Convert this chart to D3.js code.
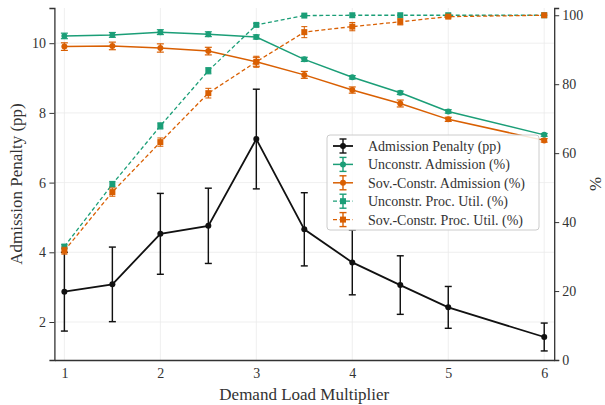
<!DOCTYPE html>
<html><head><meta charset="utf-8">
<script src="https://cdn.jsdelivr.net/npm/d3@7"></script>
<style>body{margin:0;background:#fff}svg{display:block}svg text{font-family:"Liberation Serif","Times New Roman",serif !important}</style>
</head><body><svg id="c" width="605" height="405"></svg>
<script>
const xs = [1, 1.5, 2, 2.5, 3, 3.5, 4, 4.5, 5, 6];
const penalty = [2.87, 3.08, 4.53, 4.76, 7.25, 4.66, 3.71, 3.06, 2.42, 1.57];
const penaltyErr = [1.13, 1.07, 1.16, 1.08, 1.43, 1.05, 0.93, 0.84, 0.6, 0.4];
const unAdm = [94.0, 94.3, 95.1, 94.5, 93.7, 87.2, 82.0, 77.5, 72.1, 65.3];
const unAdmErr = [0.8, 0.7, 0.7, 0.7, 0.6, 0.6, 0.5, 0.5, 0.5, 0.4];
const svAdm = [90.9, 91.1, 90.5, 89.6, 86.5, 82.7, 78.3, 74.4, 69.8, 63.7];
const svAdmErr = [1.1, 1.1, 1.2, 1.1, 1.3, 1.0, 0.9, 1.0, 0.6, 0.5];
const unUtil = [32.9, 51.0, 67.9, 83.9, 97.2, 99.9, 100, 100, 100, 100];
const unUtilErr = [0.6, 0.8, 0.9, 0.9, 0.4, 0.1, 0, 0, 0, 0];
const svUtil = [31.7, 48.7, 63.2, 77.4, 86.5, 95.1, 96.7, 98.1, 99.6, 100];
const svUtilErr = [1.0, 1.2, 1.2, 1.4, 1.6, 1.6, 1.2, 0.9, 0.4, 0.1];
const xTicks = [1, 2, 3, 4, 5, 6];
const yLeftTicks = [2, 4, 6, 8, 10];
const yRightTicks = [0, 20, 40, 60, 80, 100];
const labels = ["Admission Penalty (pp)", "Unconstr. Admission (%)", "Sov.-Constr. Admission (%)", "Unconstr. Proc. Util. (%)", "Sov.-Constr. Proc. Util. (%)"];

const GREEN = "#1b9e77", ORANGE = "#d95f02", BLACK = "#111";
const FONT = "Liberation Serif";
const svg = d3.select("#c");
const L = 54.4, R = 554.2, T = 8, B = 360;
const x = d3.scaleLinear().domain([0.896, 6.104]).range([L, R]);
const yl = d3.scaleLinear().domain([0.91, 11.01]).range([B, T]);
const yr = d3.scaleLinear().domain([0, 102.1]).range([B, T]);

// grid
const g = svg.append("g");
g.selectAll(".gx").data(xTicks).join("line").attr("x1", d => x(d)).attr("x2", d => x(d)).attr("y1", T).attr("y2", B).attr("stroke", "#ebebeb").attr("stroke-width", 0.8);
g.selectAll(".gy").data(yLeftTicks).join("line").attr("y1", d => yl(d)).attr("y2", d => yl(d)).attr("x1", L).attr("x2", R).attr("stroke", "#ebebeb").attr("stroke-width", 0.8);

function series(vals, errs, ys, color, width, dash, marker) {
  const gg = svg.append("g");
  const data = xs.map((xv, i) => ({x: xv, y: vals[i], e: errs[i]}));
  gg.append("path").datum(data).attr("fill", "none").attr("stroke", color).attr("stroke-width", width)
    .attr("stroke-dasharray", dash).attr("d", d3.line().x(d => x(d.x)).y(d => ys(d.y)));
  const cw = marker === "sq" ? 3 : 3.5;
  data.forEach(d => {
    if (d.e > 0) {
      gg.append("line").attr("x1", x(d.x)).attr("x2", x(d.x)).attr("y1", ys(d.y - d.e)).attr("y2", ys(d.y + d.e)).attr("stroke", color).attr("stroke-width", width * 0.8);
      [d.y - d.e, d.y + d.e].forEach(v => gg.append("line").attr("x1", x(d.x) - cw).attr("x2", x(d.x) + cw).attr("y1", ys(v)).attr("y2", ys(v)).attr("stroke", color).attr("stroke-width", width * 0.8));
    }
    if (marker === "sq") gg.append("rect").attr("x", x(d.x) - 3).attr("y", ys(d.y) - 3).attr("width", 6).attr("height", 6).attr("fill", color);
    else gg.append("circle").attr("cx", x(d.x)).attr("cy", ys(d.y)).attr("r", 3).attr("fill", color);
  });
}
series(penalty, penaltyErr, yl, BLACK, 1.8, null, "c");
series(unAdm, unAdmErr, yr, GREEN, 1.5, null, "c");
series(svAdm, svAdmErr, yr, ORANGE, 1.5, null, "c");
series(unUtil, unUtilErr, yr, GREEN, 1.3, "4,2.5", "sq");
series(svUtil, svUtilErr, yr, ORANGE, 1.3, "4,2.5", "sq");

// axes
const fmt = d3.format("d");
const axB = svg.append("g").attr("transform", `translate(0,${B})`).call(d3.axisBottom(x).tickValues(xTicks).tickFormat(fmt).tickSize(0).tickPadding(8.5));
const axL = svg.append("g").attr("transform", `translate(${L},0)`).call(d3.axisLeft(yl).tickValues(yLeftTicks).tickFormat(fmt).tickSize(5).tickPadding(3.5));
const axR = svg.append("g").attr("transform", `translate(${R},0)`).call(d3.axisRight(yr).tickValues(yRightTicks).tickFormat(fmt).tickSize(5).tickPadding(3));
[axB, axL, axR].forEach(a => {
  a.attr("font-family", FONT).attr("font-size", 14);
  a.selectAll("text").attr("font-size", 14).attr("fill", "#333").style("font-family", FONT);
  a.selectAll("line").attr("stroke", "#333").attr("stroke-width", 1);
  a.select(".domain").attr("stroke", "#333").attr("stroke-width", 1.3);
});

function txt(sel) { return sel.style("font-family", FONT).attr("fill", "#333"); }
txt(svg.append("text").attr("x", (L + R) / 2).attr("y", 400).attr("text-anchor", "middle").attr("font-size", 17)).text("Demand Load Multiplier");
txt(svg.append("text").attr("transform", `translate(22,${(T + B) / 2}) rotate(-90)`).attr("text-anchor", "middle").attr("font-size", 17)).text("Admission Penalty (pp)");
txt(svg.append("text").attr("transform", `translate(601,${(T + B) / 2}) rotate(-90)`).attr("text-anchor", "middle").attr("font-size", 17)).text("%");

// legend
const lg = svg.append("g").attr("transform", "translate(327,135)");
lg.append("rect").attr("width", 212).attr("height", 95).attr("rx", 3).attr("fill", "#fff").attr("fill-opacity", 0.85).attr("stroke", "#ccc");
const items = [
  {c: BLACK, dash: null, m: "c", w: 1.8},
  {c: GREEN, dash: null, m: "c", w: 1.5},
  {c: ORANGE, dash: null, m: "c", w: 1.5},
  {c: GREEN, dash: "4,2.5", m: "sq", w: 1.3},
  {c: ORANGE, dash: "4,2.5", m: "sq", w: 1.3}
];
items.forEach((it, i) => {
  const yy = 11 + i * 18.4;
  const r = lg.append("g").attr("transform", `translate(0,${yy})`);
  r.append("line").attr("x1", 6).attr("x2", 26).attr("stroke", it.c).attr("stroke-width", it.w).attr("stroke-dasharray", it.dash);
  r.append("line").attr("x1", 16).attr("x2", 16).attr("y1", -7).attr("y2", 7).attr("stroke", it.c).attr("stroke-width", 1.4);
  [-7, 7].forEach(v => r.append("line").attr("x1", 12.5).attr("x2", 19.5).attr("y1", v).attr("y2", v).attr("stroke", it.c).attr("stroke-width", 1.4));
  if (it.m === "sq") r.append("rect").attr("x", 13).attr("y", -3).attr("width", 6).attr("height", 6).attr("fill", it.c);
  else r.append("circle").attr("cx", 16).attr("r", 3).attr("fill", it.c);
  txt(r.append("text").attr("x", 41).attr("y", 5).attr("font-size", 14)).text(labels[i]);
});
</script></body></html>
